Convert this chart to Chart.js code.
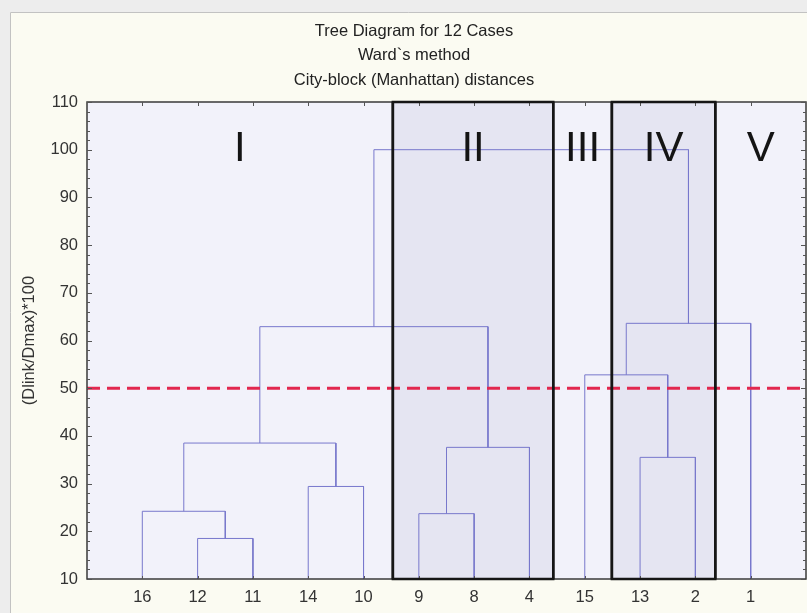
<!DOCTYPE html>
<html>
<head>
<meta charset="utf-8">
<script src="https://cdn.jsdelivr.net/npm/chart.js@4.4.1/dist/chart.umd.min.js"></script>
<style>
  html, body { margin: 0; padding: 0; background: #ededed; overflow: hidden; }
  canvas { display: block; }
</style>
</head>
<body>
<canvas id="tree" width="807" height="613"></canvas>
<script>
// Leaf order along the horizontal axis
const cases = ['16', '12', '11', '14', '10', '9', '8', '4', '15', '13', '2', '1'];

// Agglomeration steps: the two nodes joined (case label, or 'm' + step index) and the linkage distance
const joinLeft   = ['12', '16', '14', 'm1', '9', 'm4', 'm3', '13', '15', 'm8', 'm6'];
const joinRight  = ['11', 'm0', '10', 'm2', '8', '4',  'm5', '2',  'm7', '1',  'm9'];
const joinHeight = [18.5, 24.2, 29.4, 38.5, 23.7, 37.6, 62.9, 35.5, 52.8, 63.6, 100];

// Vertical axis tick values
const yTickValues = [10, 20, 30, 40, 50, 60, 70, 80, 90, 100, 110];

// Cut level and the groups it produces (boundaries in leaf units)
const cutLevel = 50;
const clusterNames  = ['I', 'II', 'III', 'IV', 'V'];
const clusterBounds = [5.53, 8.43, 9.49, 11.36];

// Heading lines
const titleLines = ['Tree Diagram for 12 Cases', 'Ward`s method', 'City-block (Manhattan) distances'];

const FONT = '"Liberation Sans", Arial, sans-serif';
const TEXT_SIZE = 16.5;
const xMax = cases.length + 1;
const yMin = yTickValues[0];
const yMax = yTickValues[yTickValues.length - 1];

// Build the dendrogram links: each join is a bracket from child heights up to the join height
const nodeX = {}, nodeH = {};
cases.forEach((c, i) => { nodeX[c] = i + 1; nodeH[c] = yMin; });
const linkSets = joinHeight.map((h, k) => {
  const l = joinLeft[k], r = joinRight[k];
  const pts = [
    { x: nodeX[l], y: nodeH[l] },
    { x: nodeX[l], y: h },
    { x: nodeX[r], y: h },
    { x: nodeX[r], y: nodeH[r] }
  ];
  nodeX['m' + k] = (nodeX[l] + nodeX[r]) / 2;
  nodeH['m' + k] = h;
  return {
    data: pts,
    showLine: true,
    borderColor: '#7878cc',
    borderWidth: 1,
    pointRadius: 0,
    fill: false,
    order: 2
  };
});

const cutSet = {
  data: [{ x: 0, y: cutLevel }, { x: xMax, y: cutLevel }],
  showLine: true,
  borderColor: '#e2284f',
  borderWidth: 3,
  borderDash: [13, 7],
  pointRadius: 0,
  fill: false,
  order: 1
};

const shaded = [1, 3];

const decorations = {
  id: 'decorations',
  beforeDraw(chart) {
    const ctx = chart.ctx;
    ctx.save();
    ctx.fillStyle = '#ededed';
    ctx.fillRect(0, 0, chart.width, chart.height);
    ctx.fillStyle = '#fbfbf2';
    ctx.fillRect(10, 12, chart.width, chart.height);
    ctx.strokeStyle = '#c2c2c2';
    ctx.lineWidth = 1;
    ctx.beginPath();
    ctx.moveTo(10.5, chart.height);
    ctx.lineTo(10.5, 12.5);
    ctx.lineTo(chart.width, 12.5);
    ctx.stroke();

    // heading
    ctx.fillStyle = '#222';
    ctx.font = TEXT_SIZE + 'px ' + FONT;
    ctx.textAlign = 'center';
    ctx.textBaseline = 'middle';
    titleLines.forEach((t, i) => ctx.fillText(t, 414, 31 + i * 24.7));
    ctx.restore();
  },
  beforeDatasetsDraw(chart) {
    const { ctx, chartArea: a, scales: { x } } = chart;
    const edges = [0, ...clusterBounds, xMax];
    ctx.save();
    ctx.fillStyle = '#f2f2fa';
    ctx.fillRect(a.left, a.top, a.right - a.left, a.bottom - a.top);
    ctx.fillStyle = '#e5e5f2';
    shaded.forEach(i => {
      const x0 = x.getPixelForValue(edges[i]);
      const x1 = x.getPixelForValue(edges[i + 1]);
      ctx.fillRect(x0, a.top, x1 - x0, a.bottom - a.top);
    });
    ctx.restore();
  },
  afterDatasetsDraw(chart) {
    const { ctx, chartArea: a, scales: { x, y } } = chart;
    const edges = [0, ...clusterBounds, xMax];
    ctx.save();

    // plot frame
    ctx.strokeStyle = '#3a3a3a';
    ctx.lineWidth = 1.5;
    ctx.strokeRect(a.left, a.top, a.right - a.left, a.bottom - a.top);

    // inward tick marks
    ctx.strokeStyle = '#555';
    ctx.lineWidth = 1;
    ctx.beginPath();
    for (let v = yMin; v <= yMax; v += 2) {
      const py = Math.round(y.getPixelForValue(v)) + 0.5;
      const len = (v - yMin) % 10 === 0 ? 5 : 3;
      ctx.moveTo(a.left, py); ctx.lineTo(a.left + len, py);
      ctx.moveTo(a.right, py); ctx.lineTo(a.right - len, py);
    }
    cases.forEach((c, i) => {
      const px = Math.round(x.getPixelForValue(i + 1)) + 0.5;
      ctx.moveTo(px, a.top); ctx.lineTo(px, a.top + 4);
      ctx.moveTo(px, a.bottom); ctx.lineTo(px, a.bottom - 3);
    });
    ctx.stroke();

    // group boxes
    ctx.strokeStyle = '#161616';
    ctx.lineWidth = 2.5;
    shaded.forEach(i => {
      const x0 = x.getPixelForValue(edges[i]);
      const x1 = x.getPixelForValue(edges[i + 1]);
      ctx.strokeRect(x0, a.top, x1 - x0, a.bottom - a.top);
    });
    clusterBounds.forEach(b => {
      const px = x.getPixelForValue(b);
      ctx.beginPath();
      ctx.moveTo(px, a.top); ctx.lineTo(px, a.bottom);
      ctx.stroke();
    });

    // group names
    ctx.fillStyle = '#141414';
    ctx.font = '42px ' + FONT;
    ctx.textAlign = 'center';
    ctx.textBaseline = 'alphabetic';
    const baseY = y.getPixelForValue(97.6);
    clusterNames.forEach((name, i) => {
      const cx = x.getPixelForValue((edges[i] + edges[i + 1]) / 2);
      ctx.fillText(name, cx, baseY);
    });
    ctx.restore();
  }
};

new Chart(document.getElementById('tree'), {
  type: 'scatter',
  data: { datasets: [...linkSets, cutSet] },
  options: {
    responsive: false,
    animation: false,
    devicePixelRatio: 1,
    layout: { padding: { top: 102, left: 0, right: 1, bottom: 0 } },
    plugins: {
      legend: { display: false },
      tooltip: { enabled: false },
      title: { display: false }
    },
    scales: {
      x: {
        type: 'linear',
        min: 0,
        max: xMax,
        grid: { display: false, drawTicks: false },
        border: { display: false },
        afterBuildTicks: s => { s.ticks = cases.map((c, i) => ({ value: i + 1 })); },
        afterFit: s => { s.height = 34; },
        ticks: {
          autoSkip: false,
          maxRotation: 0,
          padding: 9,
          color: '#333',
          font: { family: FONT, size: TEXT_SIZE },
          callback: v => cases[v - 1]
        }
      },
      y: {
        type: 'linear',
        min: yMin,
        max: yMax,
        grid: { display: false, drawTicks: false },
        border: { display: false },
        afterBuildTicks: s => { s.ticks = yTickValues.map(v => ({ value: v })); },
        afterFit: s => { s.width = 87; },
        ticks: {
          padding: 9,
          color: '#333',
          font: { family: FONT, size: TEXT_SIZE }
        },
        title: {
          display: true,
          text: '(Dlink/Dmax)*100',
          color: '#333',
          font: { family: FONT, size: TEXT_SIZE },
          padding: { top: 20, bottom: 0 }
        }
      }
    }
  },
  plugins: [decorations]
});
</script>
</body>
</html>
